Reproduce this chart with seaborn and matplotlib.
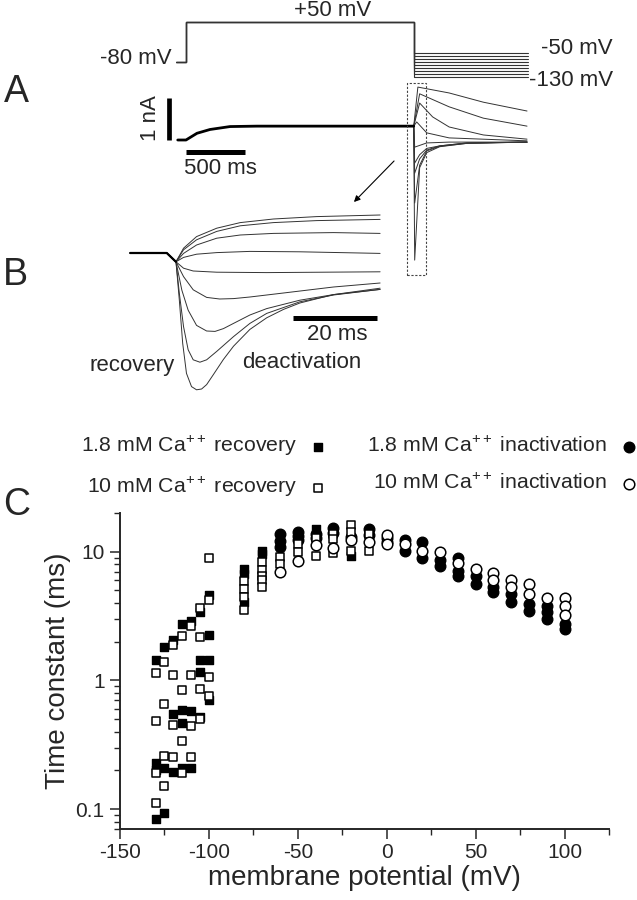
import numpy as np
import seaborn as sns
import matplotlib.pyplot as plt
from matplotlib.patches import Rectangle, FancyArrowPatch
from matplotlib.ticker import FixedLocator, LogLocator, NullFormatter, MultipleLocator

# ---------------- panel A: protocol (mV) and whole-cell currents (nA) ----------------
v_hold = -80
v_step = 50
v_tail_levels = [-50, -60, -70, -80, -90, -100, -110, -120, -130]
t_pre = -85          # ms
t_step_end = 1930    # ms
t_tail_end = 2900    # ms

# current during the +50 mV step
a_step_t = [-70, 0, 93, 203, 373, 600, 1930]
a_step_i = [0.0, 0.0, 0.16, 0.25, 0.32, 0.33, 0.33]

# tail currents, time after the end of the step (ms)
a_tail_t = [
    [0, 35, 300, 590, 960],
    [0, 50, 300, 590, 960],
    [0, 50, 160, 300, 590, 960],
    [0, 25, 110, 300, 960],
    [0, 8, 110, 300, 960],
    [0, 8, 50, 110, 220, 450, 960],
    [0, 8, 50, 110, 220, 450, 960],
    [0, 8, 50, 110, 220, 450, 960],
    [0, 8, 50, 110, 220, 450, 960],
]
a_tail_i = [
    [0.33, 1.26, 1.12, 0.90, 0.69],
    [0.33, 1.10, 0.79, 0.52, 0.33],
    [0.33, 0.88, 0.55, 0.31, 0.12, 0.02],
    [0.33, 0.43, 0.17, 0.05, -0.02],
    [0.33, -0.17, -0.07, -0.05, -0.05],
    [0.33, -0.55, -0.35, -0.20, -0.14, -0.07, -0.05],
    [0.33, -0.79, -0.45, -0.24, -0.14, -0.07, -0.05],
    [0.33, -1.50, -0.60, -0.26, -0.15, -0.08, -0.05],
    [0.33, -2.86, -0.66, -0.30, -0.16, -0.08, -0.05],
]

# ---------------- panel B: first 50 ms of the tails ----------------
b_pre_t = [-9.0, -0.3, 1.9]
b_pre_i = [0.33, 0.33, 0.11]
b_t = [
    [3.7, 6.8, 11.6, 17.2, 25.1, 35.4, 50.5],
    [3.7, 6.8, 11.6, 17.2, 25.1, 35.4, 50.5],
    [3.7, 6.8, 11.6, 17.2, 25.1, 39.4, 50.5],
    [3.7, 6.8, 11.6, 19.5, 31.4, 50.5],
    [3.7, 6.0, 11.6, 23.5, 50.5],
    [3.7, 6.0, 9.2, 12.3, 15.6, 19.5, 27.5, 39.4, 50.5],
    [3.3, 4.8, 6.8, 9.2, 11.2, 13.2, 15.6, 19.5, 23.5, 31.4, 39.4, 50.5],
    [2.7, 3.7, 4.8, 6.0, 7.6, 9.2, 11.6, 15.6, 19.5, 23.5, 31.4, 39.4, 50.5],
    [2.7, 3.5, 4.4, 5.6, 6.8, 8.0, 9.2, 10.8, 13.2, 15.6, 19.5, 23.5, 27.5, 31.4, 39.4, 50.5],
]
b_i = [
    [0.45, 0.74, 0.95, 1.09, 1.18, 1.24, 1.28],
    [0.41, 0.66, 0.87, 1.01, 1.09, 1.14, 1.17],
    [0.32, 0.53, 0.70, 0.78, 0.82, 0.84, 0.82],
    [0.22, 0.30, 0.34, 0.37, 0.36, 0.32],
    [-0.05, -0.12, -0.15, -0.16, -0.14],
    [-0.26, -0.59, -0.78, -0.82, -0.81, -0.77, -0.67, -0.52, -0.42],
    [-0.60, -1.10, -1.48, -1.62, -1.63, -1.56, -1.43, -1.22, -1.06, -0.85, -0.71, -0.58],
    [-0.68, -1.51, -2.09, -2.34, -2.40, -2.34, -2.13, -1.76, -1.43, -1.18, -0.89, -0.72, -0.58],
    [-0.85, -1.93, -2.68, -3.01, -3.09, -3.07, -2.96, -2.71, -2.33, -2.00, -1.58, -1.29, -1.08,
     -0.92, -0.71, -0.55],
]

# ---------------- panel C: time constants (ms) vs membrane potential (mV) ----------------
rec18_v = [-130, -130, -130, -130, -125, -125, -125, -120, -120, -120,
           -115, -115, -115, -115, -110, -110, -110, -105, -105, -105, -105,
           -100, -100, -100, -100, -80, -80, -80, -70, -70, -40, -20]
rec18_tau = [1.43, 0.23, 0.20, 0.083, 1.81, 0.21, 0.094, 2.07, 0.545, 0.195,
             2.72, 0.585, 0.47, 0.21, 2.88, 0.58, 0.207, 3.43, 1.43, 1.16, 0.52,
             4.64, 2.27, 1.43, 0.71, 7.4, 6.7, 4.05, 10.2, 9.6, 15.0, 9.3]

rec10_v = [-130, -130, -130, -130, -125, -125, -125, -125, -120, -120, -120, -120,
           -115, -115, -115, -115, -110, -110, -110, -110, -105, -105, -105, -105,
           -100, -100, -100, -100, -80, -80, -80, -80, -70, -70, -70, -70, -70,
           -60, -60, -50, -50, -40, -40, -30, -30, -30, -20, -20, -20, -10, -10]
rec10_tau = [1.14, 0.48, 0.19, 0.112, 1.39, 0.65, 0.26, 0.15, 1.87, 1.11, 0.45, 0.255,
             2.2, 0.84, 0.34, 0.19, 2.64, 1.11, 0.44, 0.255, 3.66, 2.17, 0.86, 0.50,
             9.0, 4.22, 1.07, 0.75, 5.96, 5.14, 4.47, 3.53, 8.3, 7.2, 6.5, 6.0, 5.3,
             9.1, 8.0, 11.5, 9.9, 12.9, 9.3, 13.8, 12.5, 9.7, 16.0, 14.2, 10.2, 13.7, 10.2]

inact18_v = [-60, -60, -60, -50, -50, -50, -40, -40, -30, -30, -20, -10, -10,
             0, 0, 10, 10, 20, 20, 30, 30, 40, 40, 40, 50, 50, 60, 60,
             70, 70, 80, 80, 90, 90, 90, 100, 100]
inact18_tau = [13.7, 12.2, 10.8, 14.3, 13.2, 12.3, 13.8, 12.8, 15.4, 14.0, 13.0, 15.0, 13.5,
               12.8, 12.0, 12.4, 10.2, 11.8, 9.0, 8.7, 7.8, 9.0, 7.1, 6.5, 6.5, 5.6, 5.3, 4.85,
               4.7, 4.05, 3.93, 3.49, 3.8, 3.4, 3.0, 2.75, 2.5]

inact10_v = [-60, -50, -40, -30, -20, -10, 0, 0, 10, 20, 30, 40, 50, 60, 60,
             70, 70, 80, 80, 90, 100, 100, 100]
inact10_tau = [6.9, 8.5, 11.2, 10.7, 12.4, 12.0, 13.5, 11.5, 11.5, 10.2, 9.9, 8.2, 7.3, 6.8, 6.0,
               6.0, 5.3, 5.6, 4.7, 4.35, 4.35, 3.8, 3.25]

labels = ['1.8 mM Ca$^{++}$ recovery', '10 mM Ca$^{++}$ recovery',
          '1.8 mM Ca$^{++}$ inactivation', '10 mM Ca$^{++}$ inactivation']

# ---------------- figure ----------------
sns.set_style('ticks')
plt.rcParams['font.family'] = ['Liberation Sans', 'DejaVu Sans']
plt.rcParams['mathtext.fontset'] = 'custom'
plt.rcParams['mathtext.rm'] = 'Liberation Sans'
plt.rcParams['mathtext.it'] = 'Liberation Sans:italic'
plt.rcParams['axes.unicode_minus'] = False

W, H = 637, 900
fig = plt.figure(figsize=(W / 100, H / 100), dpi=100)


def box(x0, y0, x1, y1):
    # pixel box (top-left origin) -> figure rect
    return [x0 / W, 1 - y1 / H, (x1 - x0) / W, (y1 - y0) / H]


def fp(x, y):
    return x / W, 1 - y / H


trace_col = '#333333'

# panel A geometry: t=0 at x=186 px, 0.118 px/ms; -80 mV at y=62, 0.3077 px/mV; 0 nA at y=140, 42 px/nA
ax_v = fig.add_axes(box(100, 15, 560, 85))
ax_i = fig.add_axes(box(100, 80, 560, 280))
for ax in (ax_v, ax_i):
    ax.set_xlim((100 - 186) / 0.118, (560 - 186) / 0.118)
    ax.set_axis_off()
ax_v.set_ylim(-80 - (85 - 62) / 0.3077, -80 + (62 - 15) / 0.3077)
ax_i.set_ylim(-(280 - 140) / 42, (140 - 80) / 42)

for lvl in v_tail_levels:
    sns.lineplot(x=[t_pre, 0, 0, t_step_end, t_step_end, t_tail_end],
                 y=[v_hold, v_hold, v_step, v_step, lvl, lvl],
                 estimator=None, sort=False, color=trace_col, lw=0.8, ax=ax_v)

for tt, ii in zip(a_tail_t, a_tail_i):
    sns.lineplot(x=[t_step_end + t for t in tt], y=ii, estimator=None, sort=False,
                 color=trace_col, lw=0.7, ax=ax_i)
sns.lineplot(x=a_step_t, y=a_step_i, estimator=None, sort=False, color='black', lw=2.0, ax=ax_i)

# scale bars
ax_i.plot([-144, -144], [0, 1], color='black', lw=3.4, solid_capstyle='butt')
ax_i.plot([0, 500], [-0.286, -0.286], color='black', lw=3.6, solid_capstyle='butt')

fig.add_artist(Rectangle(fp(407, 275), 19 / W, 192 / H, fill=False, ls=(0, (2, 1.5)),
                         lw=0.8, ec='#444444', transform=fig.transFigure))
fig.add_artist(FancyArrowPatch(fp(396, 159), fp(352, 204), transform=fig.transFigure,
                               arrowstyle='-|>', mutation_scale=9, lw=0.8, color='black'))

# panel B geometry: t=0 at x=168 px, 4.2 px/ms; 0.33 nA at y=253, 40 px/nA
ax_b = fig.add_axes(box(110, 200, 400, 400))
ax_b.set_xlim((110 - 168) / 4.2, (400 - 168) / 4.2)
ax_b.set_ylim(0.33 - (400 - 253) / 40, 0.33 + (253 - 200) / 40)
ax_b.set_axis_off()
for tt, ii in zip(b_t, b_i):
    sns.lineplot(x=b_pre_t + tt, y=b_pre_i + ii, estimator=None, sort=False,
                 color=trace_col, lw=0.7, ax=ax_b)
sns.lineplot(x=b_pre_t, y=b_pre_i, estimator=None, sort=False, color='black', lw=1.6, ax=ax_b)
ax_b.plot([29.8, 49.8], [-1.295, -1.295], color='black', lw=3.6, solid_capstyle='butt')

# panel C
ax_c = fig.add_axes(box(120, 513, 609, 829))
sns.scatterplot(x=rec18_v, y=rec18_tau, marker='s', s=40, color='black', edgecolor='black',
                linewidth=1.0, label=labels[0], ax=ax_c, zorder=3)
sns.scatterplot(x=inact18_v, y=inact18_tau, marker='o', s=58, color='black', edgecolor='black',
                linewidth=1.0, label=labels[2], ax=ax_c, zorder=3)
sns.scatterplot(x=rec10_v, y=rec10_tau, marker='s', s=40, color='white', edgecolor='black',
                linewidth=1.1, label=labels[1], ax=ax_c, zorder=4)
sns.scatterplot(x=inact10_v, y=inact10_tau, marker='o', s=58, color='white', edgecolor='black',
                linewidth=1.1, label=labels[3], ax=ax_c, zorder=5)

ax_c.set_yscale('log')
ax_c.set_xlim(-150, 125)
ax_c.set_ylim(0.07, 20)
ax_c.xaxis.set_major_locator(MultipleLocator(50))
ax_c.xaxis.set_minor_locator(MultipleLocator(25))
ax_c.yaxis.set_major_locator(FixedLocator([0.1, 1, 10]))
ax_c.set_yticklabels(['0.1', '1', '10'])
ax_c.yaxis.set_minor_locator(LogLocator(base=10, subs=np.arange(2, 10), numticks=20))
ax_c.yaxis.set_minor_formatter(NullFormatter())
sns.despine(ax=ax_c)
for s in ('left', 'bottom'):
    ax_c.spines[s].set_linewidth(1.4)
ax_c.tick_params(which='major', length=7, width=1.1, labelsize=15, direction='out')
ax_c.tick_params(which='minor', length=4, width=1.0, direction='out')
ax_c.tick_params(axis='x', pad=3)
ax_c.tick_params(axis='y', pad=4)
ax_c.set_xlabel('membrane potential (mV)', fontsize=20)
ax_c.set_ylabel('Time constant (ms)', fontsize=20)
ax_c.xaxis.set_label_coords(0.5, -0.115)
ax_c.yaxis.set_label_coords(-0.10, 0.5)

h, l = ax_c.get_legend_handles_labels()
order = [l.index(x) for x in labels]
ax_c.legend([h[k] for k in order], [l[k] for k in order], ncol=2, markerfirst=False,
            frameon=False, fontsize=15.3, handlelength=0.8, handletextpad=0.6,
            columnspacing=1.9, labelspacing=0.8, scatterpoints=1,
            loc='upper right', bbox_to_anchor=fp(637, 434), bbox_transform=fig.transFigure,
            borderpad=0, borderaxespad=0)

# texts
fs = 16
fig.text(*fp(172, 58), '-80 mV', fontsize=fs, ha='right', va='center')
fig.text(*fp(333, 11), '+50 mV', fontsize=fs, ha='center', va='center')
fig.text(*fp(613, 48), '-50 mV', fontsize=fs, ha='right', va='center')
fig.text(*fp(613, 80), '-130 mV', fontsize=fs, ha='right', va='center')
fig.text(*fp(150, 118), '1 nA', fontsize=fs, ha='center', va='center', rotation=90)
fig.text(*fp(220, 168), '500 ms', fontsize=fs, ha='center', va='center')
fig.text(*fp(337, 335), '20 ms', fontsize=fs, ha='center', va='center')
fig.text(*fp(132, 365), 'recovery', fontsize=fs, ha='center', va='center')
fig.text(*fp(302, 363), 'deactivation', fontsize=fs, ha='center', va='center')
for letter, (x, y) in zip('ABC', [(16, 92), (15, 275), (17, 505)]):
    fig.text(*fp(x, y), letter, fontsize=27, ha='center', va='center')

fig.savefig('out.png', dpi=100)
